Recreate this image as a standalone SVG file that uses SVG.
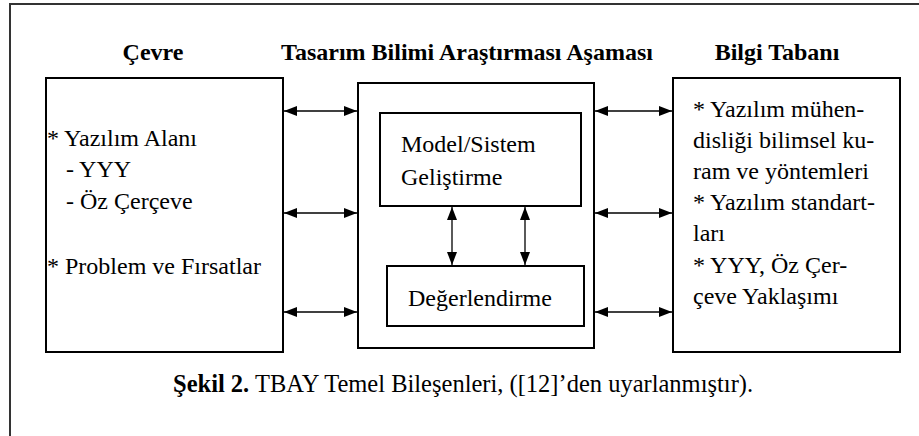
<svg xmlns="http://www.w3.org/2000/svg" width="919" height="436" viewBox="0 0 919 436">
<style>
text{font-family:'Liberation Serif','Times New Roman','Noto Serif','DejaVu Serif',serif;font-size:24px;fill:#000}
.b{font-weight:bold}
.box{fill:#fff;stroke:#000;stroke-width:2}
.c{stroke:#000;stroke-width:1.3;fill:none;marker-start:url(#ah);marker-end:url(#ah)}
</style>
<defs>
<marker id="ah" viewBox="0 0 13 10" refX="13" refY="5" markerWidth="13" markerHeight="10" markerUnits="userSpaceOnUse" orient="auto-start-reverse">
<path d="M0,0 L13,5 L0,10 Z" fill="#000"/>
</marker>
</defs>
<rect width="919" height="436" fill="#fff"/>
<path d="M10,436 V4 H919" fill="none" stroke="#333" stroke-width="2"/>
<text class="b" x="153" y="60" text-anchor="middle">Çevre</text>
<text class="b" x="467" y="60" text-anchor="middle">Tasarım Bilimi Araştırması Aşaması</text>
<text class="b" x="777" y="60" text-anchor="middle">Bilgi Tabanı</text>
<g id="cevre">
<rect class="box" x="46" y="78" width="237" height="274"/>
<text x="47" y="146">* Yazılım Alanı</text>
<text x="66" y="177">- YYY</text>
<text x="66" y="209">- Öz Çerçeve</text>
<text x="47" y="274">* Problem ve Fırsatlar</text>
</g>
<g id="tasarim">
<rect class="box" x="358" y="83" width="236" height="265"/>
</g>
<g id="model">
<rect class="box" x="380" y="113" width="201" height="93"/>
<text x="401" y="152">Model/Sistem</text>
<text x="401" y="185">Geliştirme</text>
</g>
<g id="degerlendirme">
<rect class="box" x="387" y="266" width="197" height="60"/>
<text x="408" y="306">Değerlendirme</text>
</g>
<g id="bilgi">
<rect class="box" x="673" y="78" width="227" height="274"/>
<text x="693" y="117">* Yazılım mühen-</text>
<text x="693" y="148">disliği bilimsel ku-</text>
<text x="693" y="179">ram ve yöntemleri</text>
<text x="693" y="210">* Yazılım standart-</text>
<text x="693" y="241">ları</text>
<text x="693" y="273">* YYY, Öz Çer-</text>
<text x="693" y="304">çeve Yaklaşımı</text>
</g>
<g id="connectors">
<line class="c" x1="284" y1="111" x2="357" y2="111"/>
<line class="c" x1="284" y1="213" x2="357" y2="213"/>
<line class="c" x1="284" y1="312" x2="357" y2="312"/>
<line class="c" x1="595" y1="111" x2="672" y2="111"/>
<line class="c" x1="595" y1="213" x2="672" y2="213"/>
<line class="c" x1="595" y1="312" x2="672" y2="312"/>
<line class="c" x1="452" y1="207" x2="452" y2="265"/>
<line class="c" x1="525" y1="207" x2="525" y2="265"/>
</g>
<text x="173" y="392" style="font-size:24.5px"><tspan class="b">Şekil 2.</tspan> TBAY Temel Bileşenleri, ([12]’den uyarlanmıştır).</text>
</svg>
